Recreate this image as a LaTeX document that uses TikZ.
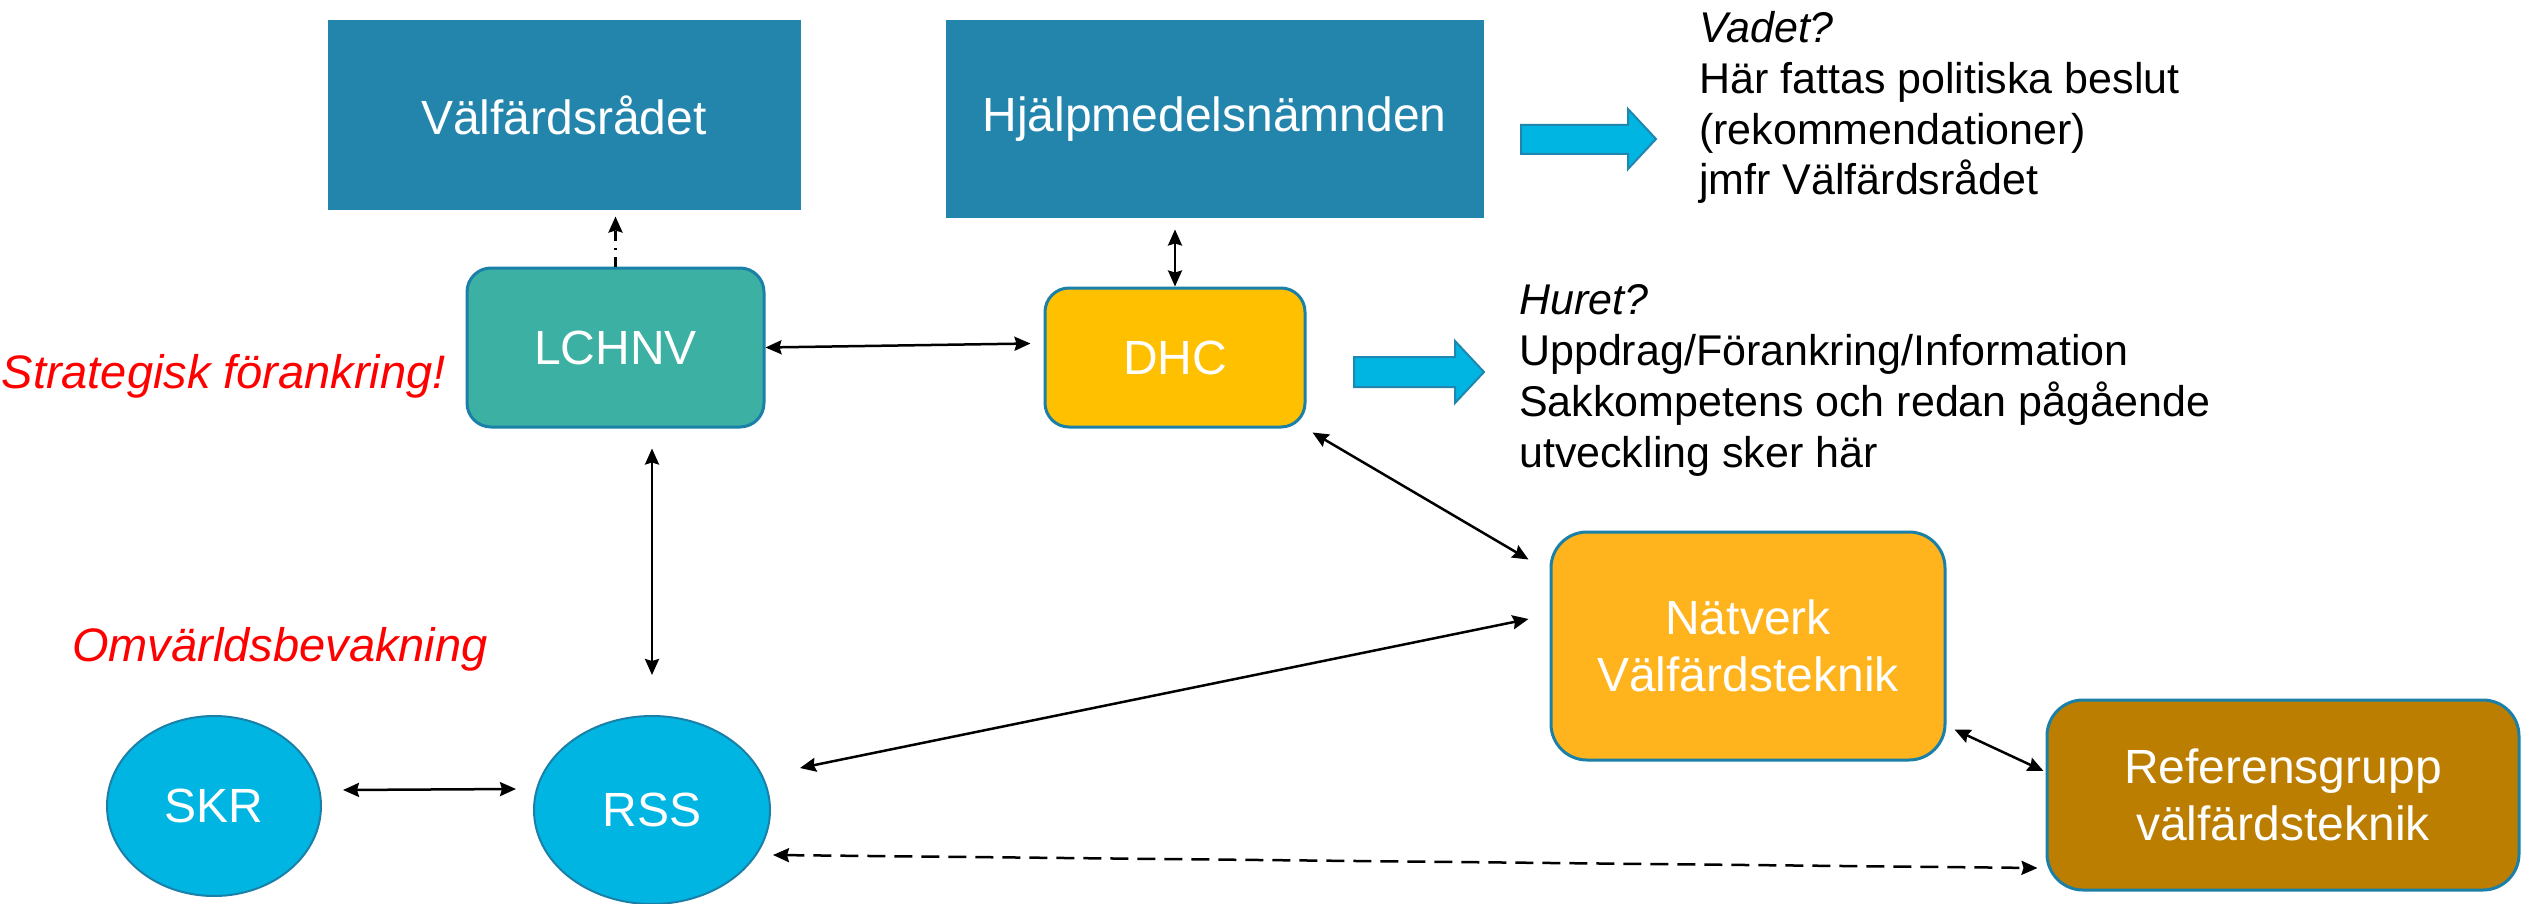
\documentclass[tikz,border=0pt]{standalone}
\usepackage{fontspec}
\setmainfont{Liberation Sans}
\usetikzlibrary{arrows.meta,shapes.geometric,calc}
\definecolor{topblue}{HTML}{2385AC}
\definecolor{edgeblue}{HTML}{1B80A8}
\definecolor{tealfill}{HTML}{3BB0A3}
\definecolor{dhcfill}{HTML}{FFC000}
\definecolor{natfill}{HTML}{FFB41E}
\definecolor{reffill}{HTML}{BC7E00}
\definecolor{ovalblue}{HTML}{00B5E2}
\definecolor{arrowedge}{HTML}{1F86B0}
\begin{document}
\begin{tikzpicture}[x=1pt,y=-1pt,
  >={Stealth[length=16pt,width=14pt,inset=2pt]},
  boxtext/.style={text=white,font=\fontsize{48}{57}\selectfont,align=center,inner sep=0pt},
  topbox/.style={boxtext,rectangle,fill=topblue,draw=topblue,line width=1pt},
  rbox/.style={boxtext,rectangle,draw=edgeblue,line width=3pt,rounded corners=24pt},
  oval/.style={boxtext,ellipse,fill=ovalblue,draw=edgeblue,line width=2pt},
  link/.style={line width=2.5pt,black},
  note/.style={font=\fontsize{43}{50}\selectfont,anchor=base west,inner sep=0pt},
  redtext/.style={font=\fontsize{47}{56}\selectfont\itshape,text=red,inner sep=0pt},
  bigarrow/.style={fill=ovalblue,draw=arrowedge,line width=2pt}
]
\useasboundingbox (0,0) rectangle (2521,904);
\fill[white] (0,0) rectangle (2521,904);

% boxes
\node[topbox,minimum width=472pt,minimum height=189pt] (valf) at (564,115.5) {Välfärdsrådet};
\node[topbox,minimum width=537pt,minimum height=197pt] (hjalp) at (1214.5,119.5) {Hjälpmedelsnämnden};
\node[rbox,fill=tealfill,minimum width=297pt,minimum height=159pt] (lchnv) at (615.5,347.5) {LCHNV};
\node[rbox,fill=dhcfill,minimum width=260pt,minimum height=139pt] (dhc) at (1175,357.5) {DHC};
\node[rbox,fill=natfill,minimum width=394pt,minimum height=228pt,rounded corners=36pt] (nat) at (1748,646) {Nätverk\\Välfärdsteknik};
\node[rbox,fill=reffill,minimum width=472pt,minimum height=190pt,rounded corners=36pt] (ref) at (2283,795) {Referensgrupp\\välfärdsteknik};
\node[oval,minimum width=214pt,minimum height=180pt] (skr) at (214,806) {SKR};
\node[oval,minimum width=236pt,minimum height=188pt] (rss) at (652,810) {RSS};

% red labels
\node[redtext,anchor=base east] (strat) at (446,388) {Strategisk förankring!};
\node[redtext,anchor=base west] (omv) at (72,661) {Omvärldsbevakning};

% notes
\node[note] (v0) at (1699,43) {\itshape Vadet?};
\node[note] (v1) at (1699,94) {Här fattas politiska beslut};
\node[note] (v2) at (1699,145) {(rekommendationer)};
\node[note] (v3) at (1699,195) {jmfr Välfärdsrådet};
\node[note] (h0) at (1519,314) {\itshape Huret?};
\node[note] (h1) at (1519,365) {Uppdrag/Förankring/Information};
\node[note] (h2) at (1519,416) {Sakkompetens och redan pågående};
\node[note] (h3) at (1519,467) {utveckling sker här};

% big block arrows
\draw[bigarrow] (1521,125) -- (1628,125) -- (1628,109) -- (1656,139) -- (1628,169) -- (1628,154) -- (1521,154) -- cycle;
\draw[bigarrow] (1354,357) -- (1455,357) -- (1455,341) -- (1484,372) -- (1455,403) -- (1455,387) -- (1354,387) -- cycle;

% connectors
\draw[link,->,dash pattern=on 10pt off 7pt on 2pt off 7pt,shorten >=6pt] (lchnv.north) -- (lchnv.north |- valf.south);
\draw[link,<->,shorten <=11pt] (hjalp.south -| dhc.north) -- (dhc.north);
\draw[link,<->] (lchnv.east) -- ([shift={(-13,-14)}]dhc.west);
\draw[link,<->,shorten <=20pt,shorten >=40pt] (lchnv.south -| rss.north) -- (rss.north);
\draw[link,<->] ([shift={(21,-16)}]skr.east) -- ([shift={(-17,-21)}]rss.west);
\draw[link,<->] ([shift={(29,-42)}]rss.east) -- ([shift={(-21,-27)}]nat.west);
\draw[link,<->] ([shift={(6,4)}]dhc.south east) -- ([shift={(-21,29)}]nat.north west);
\draw[link,<->] ([shift={(8,-32)}]nat.south east) -- ([shift={(-2,-24)}]ref.west);
\draw[link,<->,dash pattern=on 18pt off 9pt] ([shift={(2,45)}]rss.east) -- ([shift={(-8,73)}]ref.west);
\end{tikzpicture}
\end{document}
